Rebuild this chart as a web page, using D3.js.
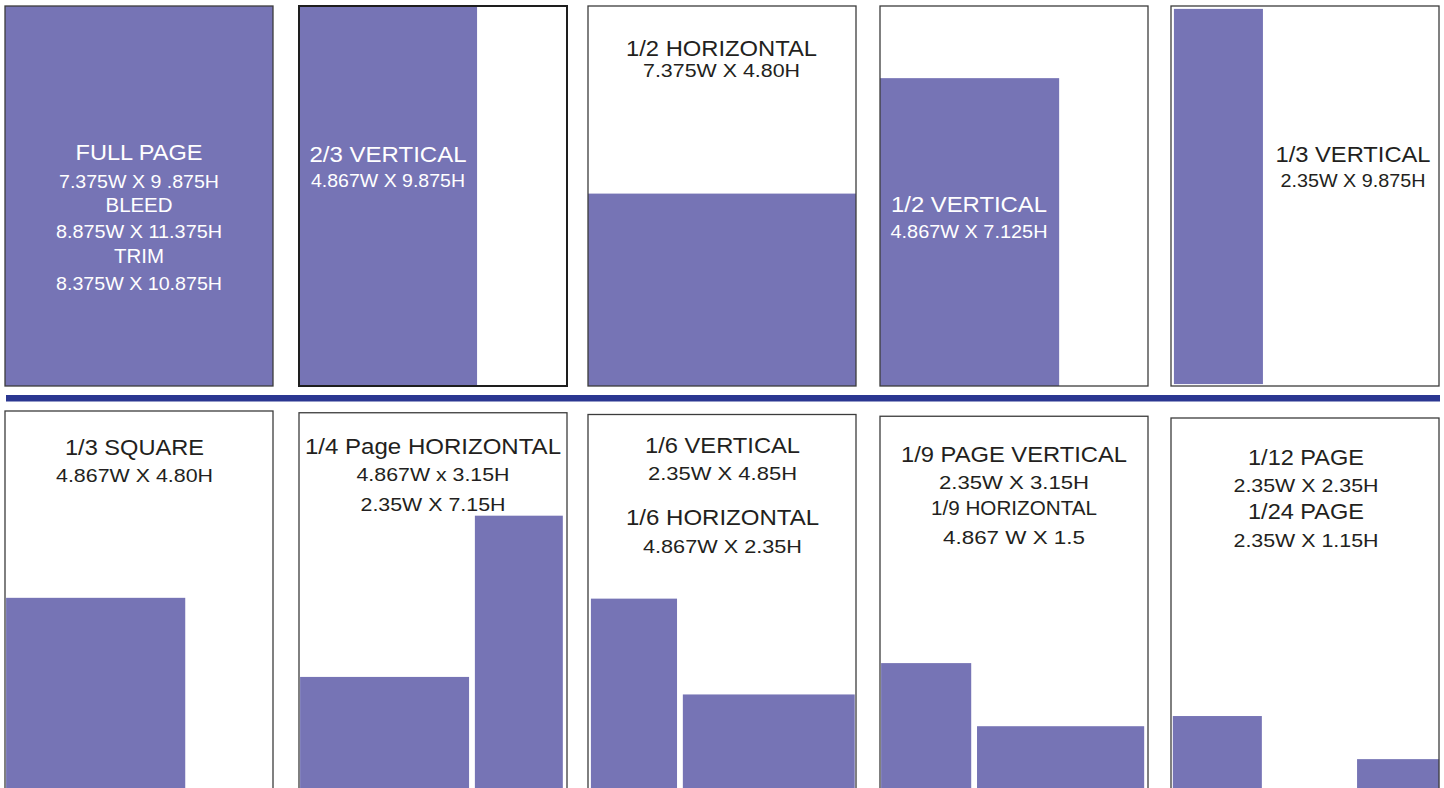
<!DOCTYPE html>
<html>
<head>
<meta charset="utf-8">
<script src="https://cdn.jsdelivr.net/npm/d3@7"></script>
<style>
  html, body { margin: 0; padding: 0; background: #fff; }
  svg { display: block; }
  text { font-family: "Liberation Sans", Arial, Helvetica, sans-serif; }
</style>
</head>
<body>
<svg id="chart" width="1444" height="788"></svg>
<script>
// ---------------- DATA ----------------
// Panel slots: row / column of each ad-size sheet
const panelRow = [0, 0, 0, 0, 0, 1, 1, 1, 1, 1];
const panelCol = [0, 1, 2, 3, 4, 0, 1, 2, 3, 4];

// Text printed in each panel
const labelLines = [
  ["FULL PAGE", "7.375W X 9 .875H", "BLEED", "8.875W X 11.375H", "TRIM", "8.375W X 10.875H"],
  ["2/3 VERTICAL", "4.867W X 9.875H"],
  ["1/2 HORIZONTAL", "7.375W X 4.80H"],
  ["1/2 VERTICAL", "4.867W X 7.125H"],
  ["1/3 VERTICAL", "2.35W X 9.875H"],
  ["1/3 SQUARE", "4.867W X 4.80H"],
  ["1/4 Page HORIZONTAL", "4.867W x 3.15H", "2.35W X 7.15H"],
  ["1/6 VERTICAL", "2.35W X 4.85H", "1/6 HORIZONTAL", "4.867W X 2.35H"],
  ["1/9 PAGE VERTICAL", "2.35W X 3.15H", "1/9 HORIZONTAL", "4.867 W X 1.5"],
  ["1/12 PAGE", "2.35W X 2.35H", "1/24 PAGE", "2.35W X 1.15H"]
];

// Page dimensions (inches) that each panel represents
const pageW = 7.375;
const pageH = 9.875;

// Ad blocks as drawn (inches): panel, left offset, width, gap above page bottom, height
const adPanel  = [0,     1,     2,     3,    4,    5,    6,    6,    7,    7,    8,    8,    9,    9];
const adLeft   = [0,     0,     0,     0,    0.08, 0.03, 0.03, 4.84, 0.08, 2.61, 0.03, 2.67, 0.05, 5.12];
const adWidth  = [7.375, 4.9,   7.375, 4.93, 2.45, 4.93, 4.65, 2.42, 2.37, 4.73, 2.48, 4.6,  2.45, 2.26];
const adBottom = [0,     0,     0,     0,    0.05, 0,    0,    0,    0,    0,    0,    0,    0,    0];
const adHeight = [9.875, 9.875, 5.0,   8.0,  9.75, 5.02, 3.01, 7.2,  5.09, 2.6,  3.46, 1.82, 2.13, 1.01];

// ---------------- LAYOUT / STYLE ----------------
const W = 1444, H = 788;
const purple = "#7674b5";
const dark = "#231f20";
const divider = "#2b3791";
const labelStyle = [
  {cx: 134,   ys: [154, 182, 206, 232, 257, 284], fs: [22.5, 19, 19.5, 19, 19.5, 19], w: [127, 160, 67, 166, 50, 166], fill: "#fff"},
  {cx: 89,    ys: [155.7, 180.7], fs: [22.5, 19], w: [157, 154], fill: "#fff"},
  {cx: 133.5, ys: [50, 71], fs: [22, 18], w: [191, 157], fill: dark},
  {cx: 89,    ys: [206.3, 231.7], fs: [22.5, 19], w: [156, 157], fill: "#fff"},
  {cx: 182,   ys: [156.3, 181.3], fs: [22.5, 19], w: [155, 145], fill: dark},
  {cx: 129.5, ys: [44, 70.7], fs: [22.5, 19], w: [139, 157], fill: dark},
  {cx: 134,   ys: [41.5, 68.3, 98.3], fs: [22.5, 19, 19], w: [256, 153, 145], fill: dark},
  {cx: 134.5, ys: [38.8, 65.5, 110.5, 138.8], fs: [22.5, 19, 22.5, 19], w: [155, 149, 193, 159], fill: dark},
  {cx: 134,   ys: [45.5, 72.8, 98.8, 127.8], fs: [22.5, 19, 20, 19], w: [226, 150, 166, 142], fill: dark},
  {cx: 135,   ys: [47, 73.7, 101.3, 128.7], fs: [22.5, 19, 22.5, 19], w: [116, 145, 116, 145], fill: dark}
];

const colX = d3.scaleBand().domain(d3.range(5)).range([5, 1440]).paddingInner(0.078).paddingOuter(0);
const panelWpx = 268;
const inchX = d3.scaleLinear().domain([0, pageW]).range([0, panelWpx]);
const inchY = d3.scaleLinear().domain([0, pageH]).range([0, 380]);
const bottomRowTop = d3.scaleLinear().domain([0, 4]).range([411, 418]);
const panelTop = i => panelRow[i] === 0 ? 6 : bottomRowTop(panelCol[i]);
const panelLeft = i => Math.round(colX(panelCol[i])) + (panelCol[i] === 1 ? 2 : 0);
const panelBottom = i => panelTop(i) + inchY(pageH);

const svg = d3.select("#chart").attr("viewBox", `0 0 ${W} ${H}`);
svg.append("rect").attr("width", W).attr("height", H).attr("fill", "#fff");

const panelIdx = d3.range(panelRow.length);

// panel backgrounds
svg.append("g").selectAll("rect").data(panelIdx).join("rect")
  .attr("x", i => panelLeft(i)).attr("y", i => panelTop(i))
  .attr("width", panelWpx).attr("height", inchY(pageH))
  .attr("fill", "#fff");

// ad blocks
const adIdx = d3.range(adPanel.length);
svg.append("g").selectAll("rect").data(adIdx).join("rect")
  .attr("x", k => panelLeft(adPanel[k]) + inchX(adLeft[k]))
  .attr("y", k => panelBottom(adPanel[k]) - inchY(adBottom[k]) - inchY(adHeight[k]))
  .attr("width", k => inchX(adWidth[k]))
  .attr("height", k => inchY(adHeight[k]))
  .attr("fill", purple);

// panel frames
svg.append("g").selectAll("rect").data(panelIdx).join("rect")
  .attr("x", i => panelLeft(i)).attr("y", i => panelTop(i))
  .attr("width", panelWpx).attr("height", inchY(pageH))
  .attr("fill", "none")
  .attr("stroke", i => i === 1 ? "#1e1e1e" : "#3c3c3c")
  .attr("stroke-width", i => i === 1 ? 2 : 1.3);

// divider line between rows
svg.append("rect")
  .attr("x", 6).attr("y", 395).attr("width", 1434).attr("height", 6.5)
  .attr("fill", divider);

// labels
const lineData = [];
labelLines.forEach((lines, p) => lines.forEach((t, j) => lineData.push({p, j, t})));
svg.append("g").selectAll("text").data(lineData).join("text")
  .attr("x", d => panelLeft(d.p) + labelStyle[d.p].cx)
  .attr("y", d => panelTop(d.p) + labelStyle[d.p].ys[d.j])
  .attr("text-anchor", "middle")
  .attr("font-size", d => labelStyle[d.p].fs[d.j])
  .attr("textLength", d => labelStyle[d.p].w[d.j])
  .attr("lengthAdjust", "spacingAndGlyphs")
  .attr("fill", d => labelStyle[d.p].fill)
  .text(d => d.t);
</script>
</body>
</html>
